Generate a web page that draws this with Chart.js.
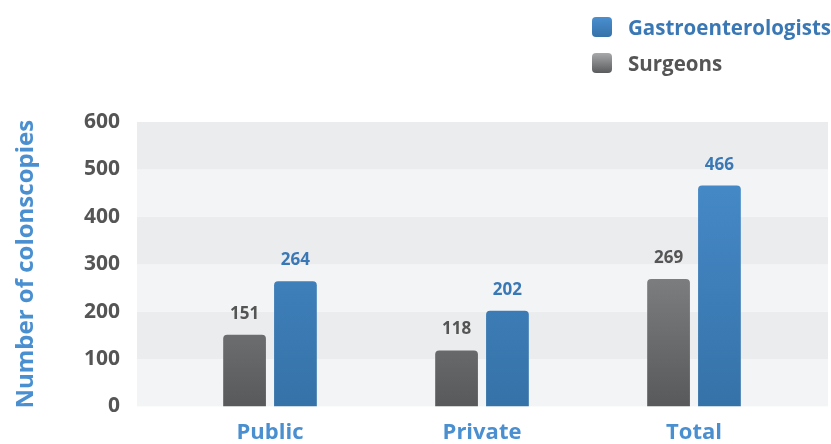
<!DOCTYPE html>
<html>
<head>
<meta charset="utf-8">
<script src="https://cdn.jsdelivr.net/npm/chart.js@4"></script>
<style>
  body { margin: 0; background: #fff; overflow: hidden; }
  #wrap { position: relative; width: 831px; height: 455px; }
  #legend { position: absolute; left: 592px; top: 9px; font-family: "Open Sans", sans-serif; font-weight: bold; font-size: 20.5px; }
  #legend div { display: flex; align-items: center; height: 36px; }
  #legend span.box { width: 20px; height: 20px; border-radius: 4px; margin-right: 16px; }
</style>
</head>
<body>
<div id="wrap">
  <canvas id="barChart"></canvas>
  <div id="legend">
    <div style="color:#3a78b5"><span class="box" style="background:linear-gradient(#4a8fd0,#3572a8)"></span>Gastroenterologists</div>
    <div style="color:#555"><span class="box" style="background:linear-gradient(#a8a9ab,#5a5b5d)"></span>Surgeons</div>
  </div>
</div>
<script>
var categories = ['Public', 'Private', 'Total'];
var surgeons = [151, 118, 269];
var gastro = [264, 202, 466];
var yTicks = [0, 100, 200, 300, 400, 500, 600];

var FONT = '"Open Sans", sans-serif';

function gradient(ctx, top, bottom) {
    var area = ctx.chart.chartArea;
    if (!area) return bottom;
    var g = ctx.chart.ctx.createLinearGradient(0, area.top, 0, area.bottom);
    g.addColorStop(0, top);
    g.addColorStop(1, bottom);
    return g;
}

// striped background, a bit wider than the plot area
var bandPlugin = {
    id: 'bands',
    beforeDraw: function(chart) {
        var c = chart.ctx, a = chart.chartArea, y = chart.scales.y;
        for (var i = 0; i < yTicks.length - 1; i++) {
            var y0 = y.getPixelForValue(yTicks[i]);
            var y1 = y.getPixelForValue(yTicks[i + 1]);
            c.fillStyle = (i % 2 === 1) ? '#ebecee' : '#f3f4f5';
            c.fillRect(a.left - 27, y1, a.right - a.left + 55, y0 - y1);
        }
    }
};

// value labels above the bars
var valuePlugin = {
    id: 'values',
    afterDatasetsDraw: function(chart) {
        var c = chart.ctx;
        c.save();
        c.font = 'bold 17px ' + FONT;
        c.textAlign = 'center';
        c.textBaseline = 'alphabetic';
        chart.data.datasets.forEach(function(ds, di) {
            c.fillStyle = ds.labelColor;
            chart.getDatasetMeta(di).data.forEach(function(bar, i) {
                c.fillText(ds.data[i], bar.x, bar.y - 16);
            });
        });
        c.restore();
    }
};

var ctx = document.getElementById('barChart').getContext('2d');
var chart = new Chart(ctx, {
    type: 'bar',
    data: {
        labels: categories,
        datasets: [
            {
                label: 'Surgeons',
                data: surgeons,
                labelColor: '#555555',
                backgroundColor: function(c) { return gradient(c, '#a8a9ab', '#58595b'); },
                borderRadius: { topLeft: 4, topRight: 4 },
                borderSkipped: 'bottom'
            },
            {
                label: 'Gastroenterologists',
                data: gastro,
                labelColor: '#3a78b5',
                backgroundColor: function(c) { return gradient(c, '#4a8fd0', '#3572a8'); },
                borderRadius: { topLeft: 4, topRight: 4 },
                borderSkipped: 'bottom'
            }
        ]
    },
    options: {
        responsive: true,
        maintainAspectRatio: false,
        animation: false,
        datasets: { bar: { categoryPercentage: 0.48, barPercentage: 0.84 } },
        layout: { padding: { top: 122, right: 31, left: 0, bottom: 0 } },
        plugins: { legend: { display: false }, tooltip: { enabled: false } },
        scales: {
            x: {
                grid: { display: false },
                border: { display: false },
                afterFit: function(s) { s.height = 38; },
                ticks: { color: '#4a8fd0', font: { family: FONT, size: 22, weight: 'bold' }, padding: 5 }
            },
            y: {
                min: 0, max: 600,
                grid: { display: false },
                border: { display: false },
                afterFit: function(s) { s.width = 164; },
                afterBuildTicks: function(s) { s.ticks = yTicks.map(function(v) { return { value: v }; }); },
                ticks: { color: '#555555', font: { family: FONT, size: 21, weight: 'bold' }, padding: 36 },
                title: { display: true, text: 'Number of colonscopies', color: '#4a8fd0', font: { family: FONT, size: 24, weight: 'bold' }, padding: { top: 12, bottom: 16 } }
            }
        }
    },
    plugins: [bandPlugin, valuePlugin]
});
</script>
</body>
</html>
